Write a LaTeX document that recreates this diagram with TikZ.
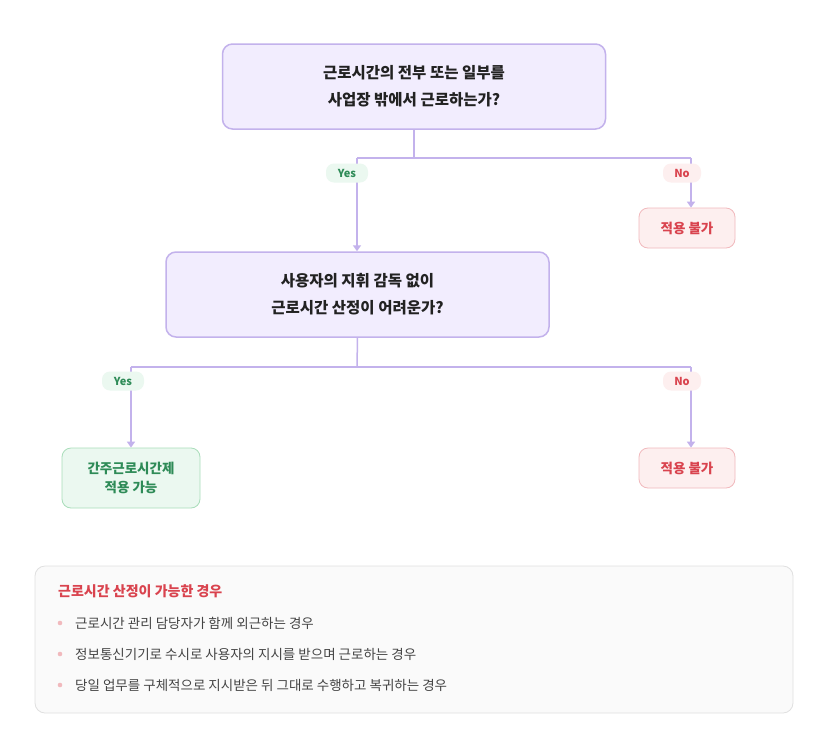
\documentclass[tikz,border=0pt]{standalone}
\usepackage{fontspec}
\setmainfont{Noto Sans CJK KR}
\usetikzlibrary{arrows.meta}
\definecolor{pborder}{HTML}{C3B2EC}
\definecolor{pfill}{HTML}{F2EDFE}
\definecolor{gtext}{HTML}{2E8B57}
\definecolor{gfill}{HTML}{EBF8F0}
\definecolor{gborder}{HTML}{A9DDBA}
\definecolor{rtext}{HTML}{D9434E}
\definecolor{rfill}{HTML}{FDEFEF}
\definecolor{rborder}{HTML}{F1B9BD}
\definecolor{dtext}{HTML}{222222}
\definecolor{btext}{HTML}{444444}
\tikzset{
 q/.style={draw=pborder,fill=pfill,line width=1.5pt,rounded corners=10pt,minimum width=383pt,minimum height=85pt,align=center,font=\fontsize{15.5}{27}\selectfont\bfseries,text=dtext},
 bad/.style={draw=rborder,fill=rfill,line width=0.8pt,rounded corners=9pt,minimum width=96pt,minimum height=40pt,font=\fontsize{13.5}{16}\selectfont\bfseries,text=rtext},
 good/.style={draw=gborder,fill=gfill,line width=0.8pt,rounded corners=9pt,minimum width=138pt,minimum height=60pt,align=center,font=\fontsize{13.5}{19}\selectfont\bfseries,text=gtext},
 yes/.style={fill=gfill,rounded corners=8pt,minimum width=42pt,minimum height=19pt,font=\fontsize{11}{12}\selectfont\bfseries,text=gtext,inner sep=1pt},
 no/.style={fill=rfill,rounded corners=8pt,minimum width=38pt,minimum height=19pt,font=\fontsize{11}{12}\selectfont\bfseries,text=rtext,inner sep=1pt},
 ln/.style={draw=pborder,line width=1.5pt},
 ar/.style={ln,-{Triangle[width=8pt,length=6pt]}},
 item/.style={anchor=west,font=\fontsize{13.5}{15}\selectfont,text=btext,inner sep=0pt}
}
\begin{document}
\begin{tikzpicture}[x=1pt,y=-1pt]
\useasboundingbox[fill=white] (0,0) rectangle (828,753);
\node[q] (q1) at (414,86.5) {근로시간의 전부 또는 일부를\\사업장 밖에서 근로하는가?};
\node[q] (q2) at (357.5,294.5) {사용자의 지휘 감독 없이\\근로시간 산정이 어려운가?};
\node[bad] (n1) at (687,228) {적용 불가};
\node[bad] (n2) at (687,468) {적용 불가};
\node[good] (g) at (131,478) {간주근로시간제\\적용 가능};
\coordinate (s1) at (414,158);
\coordinate (l1) at (357,158);
\coordinate (r1) at (691,158);
\coordinate (s2) at (357,367);
\coordinate (l2) at (131,367);
\coordinate (r2) at (691,367);
\draw[ln] (q1.south) -- (s1);
\draw[ln] (l1) -- (r1);
\draw[ar] (l1) -- (l1 |- q2.north);
\draw[ar] (r1) -- (r1 |- n1.north);
\draw[ln] (q2.south) -- (s2);
\draw[ln] (l2) -- (r2);
\draw[ar] (l2) -- (l2 |- g.north);
\draw[ar] (r2) -- (r2 |- n2.north);
\node[yes] (y1) at (347,173) {Yes};
\node[no] (o1) at (682,173) {No};
\node[yes] (y2) at (123,381) {Yes};
\node[no] (o2) at (682,381) {No};
\node[draw=black!12,fill=black!2,line width=0.8pt,rounded corners=10pt,minimum width=758pt,minimum height=147pt] (info) at (414,639.5) {};
\node[anchor=west,inner sep=0pt,font=\fontsize{14}{16}\selectfont\bfseries,text=rtext] (t) at (58,591) {근로시간 산정이 가능한 경우};
\foreach \y/\txt [count=\i] in {623/근로시간 관리 담당자가 함께 외근하는 경우,654/정보통신기기로 수시로 사용자의 지시를 받으며 근로하는 경우,685/당일 업무를 구체적으로 지시받은 뒤 그대로 수행하고 복귀하는 경우}{
 \fill[rborder] (60,\y) circle (2.3pt);
 \node[item] (i\i) at (75,\y) {\txt};
}
\end{tikzpicture}
\end{document}
